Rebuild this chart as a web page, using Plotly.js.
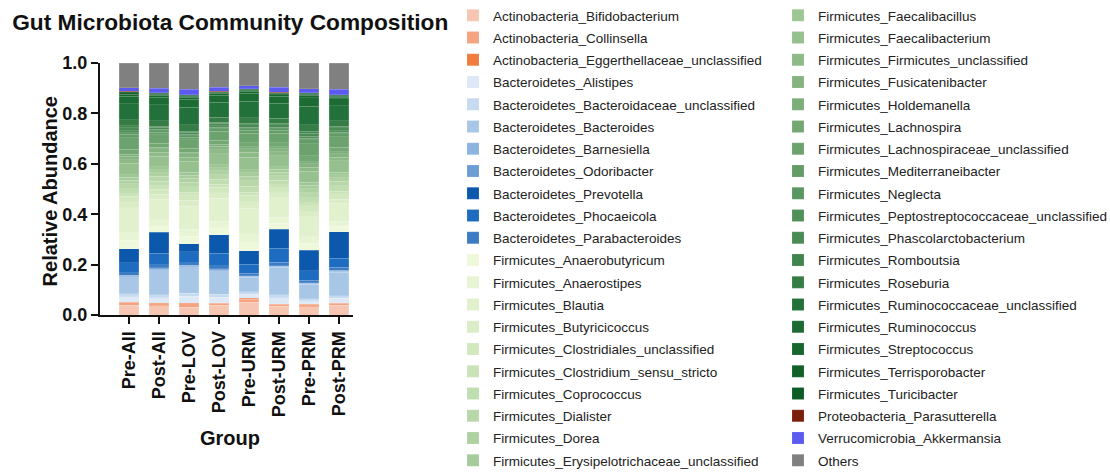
<!DOCTYPE html>
<html><head><meta charset="utf-8">
<script src="https://cdn.plot.ly/plotly-3.0.1.min.js"></script>
<style>html,body{margin:0;padding:0;background:#fff}#chart{width:1110px;height:472px}</style>
</head><body><div id="chart"></div>
<script>
// ---------- data ----------
const groups = ['Pre-All','Post-All','Pre-LOV','Post-LOV','Pre-URM','Post-URM','Pre-PRM','Post-PRM'];
const yTitle = 'Relative Abundance';
const xTitle = 'Group';

const actinoNames = ['Actinobacteria_Bifidobacterium','Actinobacteria_Collinsella','Actinobacteria_Eggerthellaceae_unclassified'];
const actinoValues = [
  [0.039,0.036,0.031,0.038,0.050,0.035,0.032,0.039],
  [0.012,0.008,0.013,0.008,0.013,0.007,0.010,0.008],
  [0.002,0.002,0.002,0.002,0.003,0.002,0.002,0.002]
];

const bacteroNames = ['Bacteroidetes_Alistipes','Bacteroidetes_Bacteroidaceae_unclassified','Bacteroidetes_Bacteroides','Bacteroidetes_Barnesiella','Bacteroidetes_Odoribacter','Bacteroidetes_Prevotella','Bacteroidetes_Phocaeicola','Bacteroidetes_Parabacteroides'];
const bacteroValues = [
  [0.020,0.022,0.028,0.022,0.016,0.024,0.012,0.018],
  [0.012,0.012,0.012,0.012,0.010,0.013,0.009,0.010],
  [0.066,0.100,0.106,0.094,0.058,0.108,0.058,0.093],
  [0.004,0.004,0.003,0.004,0.003,0.004,0.003,0.004],
  [0.003,0.003,0.003,0.003,0.003,0.003,0.002,0.003],
  [0.055,0.083,0.031,0.073,0.052,0.075,0.081,0.105],
  [0.039,0.046,0.043,0.050,0.036,0.055,0.037,0.036],
  [0.010,0.012,0.010,0.012,0.010,0.014,0.010,0.012]
];

const firmiNames = ['Firmicutes_Anaerobutyricum','Firmicutes_Anaerostipes','Firmicutes_Blautia','Firmicutes_Butyricicoccus','Firmicutes_Clostridiales_unclassified','Firmicutes_Clostridium_sensu_stricto','Firmicutes_Coprococcus','Firmicutes_Dialister','Firmicutes_Dorea','Firmicutes_Erysipelotrichaceae_unclassified','Firmicutes_Faecalibacillus','Firmicutes_Faecalibacterium','Firmicutes_Firmicutes_unclassified','Firmicutes_Fusicatenibacter','Firmicutes_Holdemanella','Firmicutes_Lachnospira','Firmicutes_Lachnospiraceae_unclassified','Firmicutes_Mediterraneibacter','Firmicutes_Neglecta','Firmicutes_Peptostreptococcaceae_unclassified','Firmicutes_Phascolarctobacterium','Firmicutes_Romboutsia','Firmicutes_Roseburia','Firmicutes_Ruminococcaceae_unclassified','Firmicutes_Ruminococcus','Firmicutes_Streptococcus','Firmicutes_Terrisporobacter','Firmicutes_Turicibacter'];
const firmiValues = [
  [0.035,0.025,0.030,0.028,0.036,0.024,0.028,0.022],
  [0.030,0.025,0.028,0.027,0.032,0.024,0.026,0.021],
  [0.098,0.082,0.092,0.090,0.102,0.078,0.080,0.070],
  [0.025,0.020,0.023,0.022,0.026,0.019,0.020,0.017],
  [0.022,0.020,0.022,0.022,0.025,0.020,0.023,0.022],
  [0.010,0.012,0.011,0.011,0.013,0.011,0.012,0.010],
  [0.020,0.018,0.020,0.020,0.023,0.018,0.021,0.020],
  [0.018,0.020,0.019,0.019,0.022,0.018,0.020,0.018],
  [0.015,0.014,0.015,0.015,0.017,0.014,0.015,0.015],
  [0.012,0.012,0.013,0.013,0.014,0.012,0.013,0.012],
  [0.010,0.012,0.011,0.011,0.013,0.011,0.012,0.010],
  [0.045,0.042,0.044,0.044,0.050,0.042,0.045,0.045],
  [0.015,0.016,0.016,0.016,0.018,0.016,0.016,0.015],
  [0.013,0.014,0.014,0.014,0.015,0.013,0.013,0.013],
  [0.008,0.006,0.006,0.007,0.007,0.007,0.009,0.007],
  [0.020,0.015,0.015,0.016,0.017,0.017,0.022,0.018],
  [0.045,0.035,0.034,0.036,0.038,0.038,0.048,0.042],
  [0.015,0.010,0.011,0.011,0.012,0.012,0.016,0.013],
  [0.006,0.005,0.005,0.005,0.005,0.005,0.006,0.005],
  [0.008,0.006,0.006,0.007,0.007,0.007,0.008,0.007],
  [0.012,0.008,0.008,0.008,0.009,0.009,0.013,0.011],
  [0.008,0.005,0.005,0.005,0.005,0.005,0.008,0.007],
  [0.022,0.020,0.024,0.020,0.022,0.020,0.025,0.020],
  [0.065,0.065,0.070,0.060,0.066,0.060,0.074,0.060],
  [0.030,0.030,0.032,0.027,0.031,0.028,0.034,0.028],
  [0.008,0.008,0.008,0.007,0.008,0.007,0.009,0.007],
  [0.004,0.004,0.004,0.004,0.004,0.004,0.004,0.004],
  [0.004,0.003,0.004,0.003,0.004,0.003,0.004,0.003]
];

const otherNames = ['Proteobacteria_Parasutterella','Verrucomicrobia_Akkermansia','Others'];
const otherValues = [
  [0.002,0.002,0.003,0.002,0.002,0.002,0.002,0.002],
  [0.015,0.018,0.020,0.016,0.013,0.019,0.016,0.021],
  [0.098,0.100,0.105,0.096,0.090,0.097,0.102,0.105]
];

// ---------- styles ----------
const actinoColors = ['#F7C6B3','#F5A380','#F47B3E'];
const bacteroColors = ['#DDE9F6','#C6DAF0','#A8C7E7','#8DB4DE','#6C9ED3','#0B58AC','#1D6CBF','#3C7CC5'];
const firmiColors = ['#EEF8DB','#E8F5D4','#E1F1CD','#DAEDC6','#D2E8BF','#CAE3B8','#C1DEB1','#B9D8A9','#B0D2A2','#A7CC9B',
  '#9EC694','#96C08D','#8DBA87','#85B480','#7CAE7A','#74A873','#6BA26D','#639C67','#5A9661','#52905A',
  '#4A8A54','#3F854D','#357D45','#22703A','#1C6B33','#16662E','#116129','#0D5C25'];
const otherColors = ['#7A1F0A','#5B5BF0','#808080'];

const names = [].concat(actinoNames, bacteroNames, firmiNames, otherNames);
const values = [].concat(actinoValues, bacteroValues, firmiValues, otherValues);
const colors = [].concat(actinoColors, bacteroColors, firmiColors, otherColors);

// stacking order (bottom -> top); Prevotella drawn on top of the Bacteroidetes block
const stackOrder = [0,1,2, 3,4,5,6,7,10,9,8];
for (let i = 11; i < names.length; i++) stackOrder.push(i);

const FONT = "Arial, 'Liberation Sans', Helvetica, sans-serif";
const half = 21;

const traces = stackOrder.map(idx => ({
  type: 'bar',
  name: names[idx],
  x: groups,
  y: values[idx],
  marker: {color: colors[idx], line: {width: 0.4, color: 'rgba(255,255,255,0.35)'}},
  legend: idx < half ? 'legend' : 'legend2',
  legendrank: idx + 1,
  legendgroup: 'g' + idx,
  hoverinfo: 'name+y'
}));

const legendCommon = {
  orientation: 'v',
  traceorder: 'grouped',
  tracegroupgap: 1.7,
  font: {family: FONT, size: 13.5, color: '#222'},
  bgcolor: 'rgba(0,0,0,0)',
  xref: 'container', yref: 'container',
  xanchor: 'left',
  yanchor: 'top',
  y: 1.0,
  maxheight: 700,
  itemclick: false,
  itemdoubleclick: false
};

const layout = {
  width: 1110, height: 472,
  margin: {l: 100, r: 757, t: 63, b: 157, pad: 0, autoexpand: false},
  paper_bgcolor: '#fff', plot_bgcolor: '#fff',
  barmode: 'stack',
  bargap: 0.35,
  font: {family: FONT, color: '#111'},
  title: {
    text: 'Gut Microbiota Community Composition',
    font: {family: FONT, size: 22.7, weight: 'bold', color: '#111'},
    xref: 'container', yref: 'container',
    x: 0.011, xanchor: 'left', y: 0.953, yanchor: 'middle'
  },
  xaxis: {
    type: 'category',
    range: [-0.97, 7.47],
    showline: true, linecolor: '#111', linewidth: 2,
    ticks: 'outside', ticklen: 7, tickwidth: 2, tickcolor: '#111',
    tickangle: -90,
    tickfont: {family: FONT, size: 18, weight: 'bold', color: '#111'},
    showgrid: false, zeroline: false
  },
  yaxis: {
    range: [0, 1.0],
    tickvals: [0, 0.2, 0.4, 0.6, 0.8, 1.0],
    tickformat: '.1f',
    showline: true, linecolor: '#111', linewidth: 2,
    ticks: 'outside', ticklen: 7, tickwidth: 2, tickcolor: '#111',
    tickfont: {family: FONT, size: 18, weight: 'bold', color: '#111'},
    showgrid: false, zeroline: false
  },
  annotations: [
    {text: yTitle, textangle: -90, xref: 'paper', yref: 'paper', x: -0.198, y: 0.49,
     xanchor: 'center', yanchor: 'middle', showarrow: false,
     font: {family: FONT, size: 20, weight: 'bold', color: '#111'}},
    {text: xTitle, xref: 'paper', yref: 'paper', x: 0.514, y: -0.488,
     xanchor: 'center', yanchor: 'middle', showarrow: false,
     font: {family: FONT, size: 20, weight: 'bold', color: '#111'}}
  ],
  legend: Object.assign({}, legendCommon, {x: 453 / 1110}),
  legend2: Object.assign({}, legendCommon, {x: 778 / 1110}),
  showlegend: true
};

Plotly.newPlot('chart', traces, layout, {displayModeBar: false, responsive: false});
</script>
</body></html>
